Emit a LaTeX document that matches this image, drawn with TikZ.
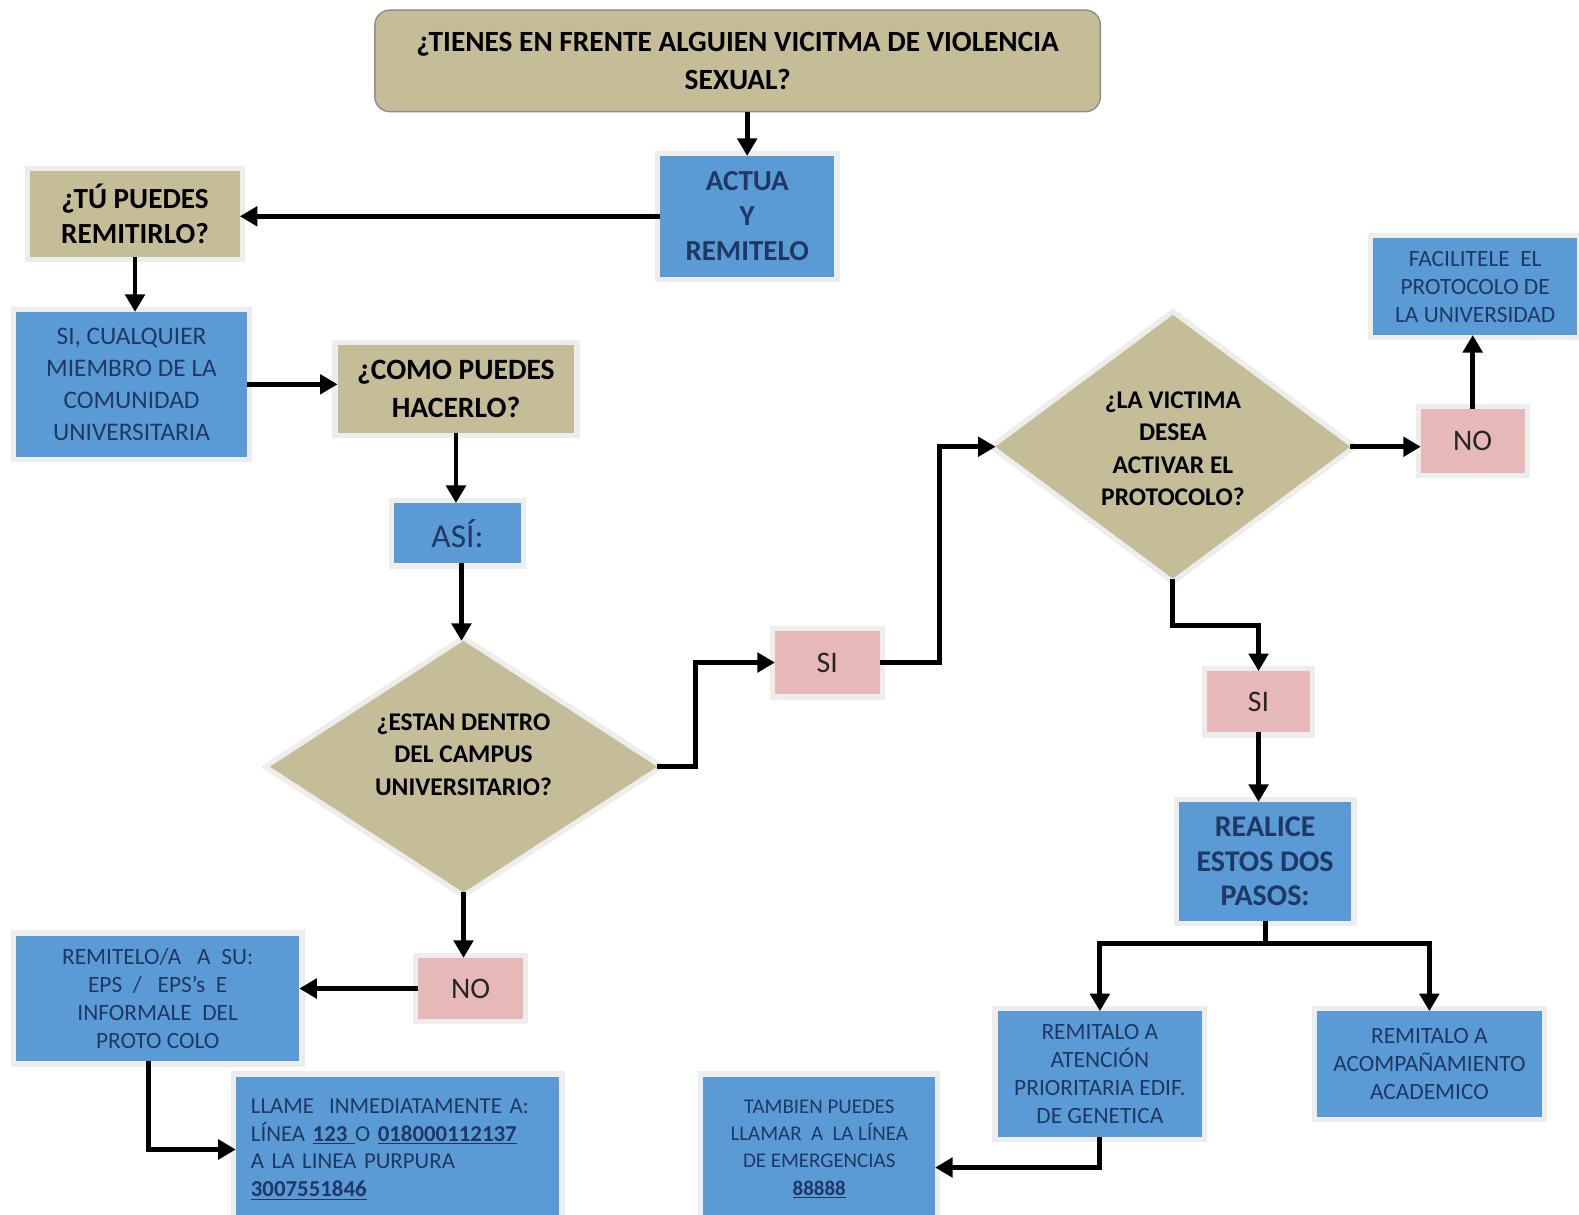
\documentclass[tikz,border=0pt]{standalone}
\usepackage{fontspec}
\setmainfont{Carlito}
\usetikzlibrary{shapes.geometric,arrows.meta,calc}
\definecolor{tanc}{HTML}{C4BD97}
\definecolor{blu}{HTML}{5B9BD5}
\definecolor{pnk}{HTML}{E6B8B7}
\definecolor{navy}{HTML}{1F3864}
\newcommand\bx[7]{\node[#6, minimum width={(#4-#2)*0.020154cm}, minimum height={(#5-#3)*0.020133cm}] (#1) at ({(#2+#4)/2},{(#3+#5)/2}) {#7};}
\tikzset{
  halo/.style={preaction={draw=black!7, line width=6pt}},
  basebox/.style={rectangle, inner sep=0pt, outer sep=0pt, align=center, halo},
  tanbox/.style={basebox, fill=tanc, text=black, font=\fontsize{16.8}{21.5}\selectfont\bfseries},
  bluebox/.style={basebox, fill=blu, text=navy, font=\fontsize{14.4}{18.2}\selectfont},
  smallblue/.style={basebox, fill=blu, text=navy, font=\fontsize{13.3}{15.8}\selectfont},
  pinkbox/.style={basebox, fill=pnk, text=black!85, font=\fontsize{17}{19}\selectfont},
  dia/.style={diamond, inner sep=0pt, outer sep=0pt, fill=tanc, halo},
  diatext/.style={align=center, inner sep=0pt, text=black, font=\fontsize{14.5}{18.4}\selectfont\bfseries},
  conn/.style={line width=2.8pt},
  arr/.style={conn, -{Triangle[length=10pt,width=11pt]}}
}
\begin{document}
\begin{tikzpicture}[x=0.020154cm, y=-0.020133cm]
\useasboundingbox (0,0) rectangle (1567,1207);
% title
\node[rectangle, rounded corners=0.3cm, draw=black!45, line width=0.8pt, fill=tanc, inner sep=0pt, align=center,
  minimum width={720*0.020154cm}, minimum height={101*0.020133cm}, font=\fontsize{16.7}{21.5}\selectfont\bfseries]
  (title) at (732,60.5) {¿TIENES EN FRENTE ALGUIEN VICITMA DE VIOLENCIA\\SEXUAL?};
\bx{actua}{655}{155}{828}{275}{bluebox, font=\fontsize{16.5}{19.8}\selectfont\bfseries}{ACTUA\\Y\\REMITELO}
\bx{tu}{30}{170}{238}{255}{tanbox, font=\fontsize{16.6}{19.8}\selectfont\bfseries}{¿TÚ PUEDES\\REMITIRLO?}
\bx{cual}{16}{310}{245}{454}{bluebox}{SI, CUALQUIER\\MIEMBRO DE LA\\COMUNIDAD\\UNIVERSITARIA}
\bx{como}{335}{343}{570}{430}{tanbox}{¿COMO PUEDES\\HACERLO?}
\bx{asi}{391}{500}{517}{560}{bluebox, font=\fontsize{19}{20}\selectfont}{ASÍ:}
% diamond 1
\node[dia, minimum width={384*0.020154cm}, minimum height={250*0.020133cm}] (d1) at (460,762) {};
\node[diatext] (d1t) at (460,750) {¿ESTAN DENTRO\\DEL CAMPUS\\UNIVERSITARIO?};
\bx{si1}{769}{627}{873}{690}{pinkbox}{SI}
% diamond 2
\node[dia, minimum width={352*0.020154cm}, minimum height={262*0.020133cm}] (d2) at (1164,444) {};
\node[diatext] (d2t) at (1164,446) {¿LA VICTIMA\\DESEA\\ACTIVAR EL\\PROTOCOLO?};
\bx{no2}{1410}{407}{1513}{470}{pinkbox}{NO}
\bx{faci}{1363}{237}{1565}{333}{smallblue}{FACILITELE~ EL\\PROTOCOLO DE\\LA UNIVERSIDAD}
\bx{si2}{1198}{667}{1300}{728}{pinkbox}{SI}
\bx{real}{1170}{797}{1341}{915}{bluebox, font=\fontsize{17.1}{19.8}\selectfont\bfseries}{REALICE\\ESTOS DOS\\PASOS:}
\bx{aten}{990}{1005}{1193}{1130}{smallblue}{REMITALO A\\ATENCIÓN\\PRIORITARIA EDIF.\\DE GENETICA}
\bx{acom}{1307}{1005}{1530}{1110}{smallblue}{REMITALO A\\ACOMPAÑAMIENTO\\ACADEMICO}
\bx{tamb}{698}{1070}{928}{1215}{smallblue, font=\fontsize{11.9}{15.4}\selectfont}{TAMBIEN PUEDES\\LLAMAR~ A~ LA LÍNEA\\DE EMERGENCIAS\\\underline{\textbf{88888}}}
\bx{no1}{415}{952}{519}{1013}{pinkbox}{NO}
\bx{rem}{16}{930}{297}{1055}{smallblue}{REMITELO/A~~ A~ SU:\\EPS~ /~~ EPS’s~ E\\INFORMALE~ DEL\\PROTO COLO}
\node[basebox, fill=blu, text=navy, font=\fontsize{13}{15.8}\selectfont, align=left, anchor=west,
  minimum width={321*0.020154cm}, minimum height={145*0.020133cm}, text width={291*0.020154cm}, inner xsep={15*0.020154cm}]
  (llame) at (234,1142.5) {LLAME~ INMEDIATAMENTE A:\\LÍNEA \underline{\textbf{123 }}O \underline{\textbf{018000112137}}\\A LA LINEA PURPURA\\\underline{\textbf{3007551846}}};
% connectors
\draw[arr] (actua.north |- title.south) -- (actua.north);
\draw[arr] (actua.west) -- (actua.west -| tu.east);
\draw[arr] (tu.south) -- (tu.south |- cual.north);
\draw[arr] (cual.east) -- (cual.east -| como.west);
\draw[arr] (como.south) -- (como.south |- asi.north);
\draw[arr] ([xshift=0.08cm]asi.south) -- ([xshift=0.08cm]asi.south |- d1.north);
\draw[arr] (d1.east) -- ++(38,0) |- (si1.west);
\draw[arr] (si1.east) -- ++(59,0) |- (d2.west);
\draw[arr] (d2.east) -- (d2.east -| no2.west);
\draw[arr] (no2.north) -- (no2.north |- faci.south);
\draw[arr] (d2.south) -- ++(0,47) -| (si2.north);
\draw[arr] (si2.south) -- (si2.south |- real.north);
\draw[conn] (real.south) -- ++(0,23) coordinate (br);
\draw[arr] (br) -| (aten.north);
\draw[arr] (br) -| (acom.north);
\draw[arr] (aten.south) |- ([yshift=-0.36cm]tamb.east);
\draw[arr] (d1.south) -- (d1.south |- no1.north);
\draw[arr] (no1.west) -- (no1.west -| rem.east);
\draw[arr] ([xshift=-0.18cm]rem.south) |- (llame.west);
\end{tikzpicture}
\end{document}
